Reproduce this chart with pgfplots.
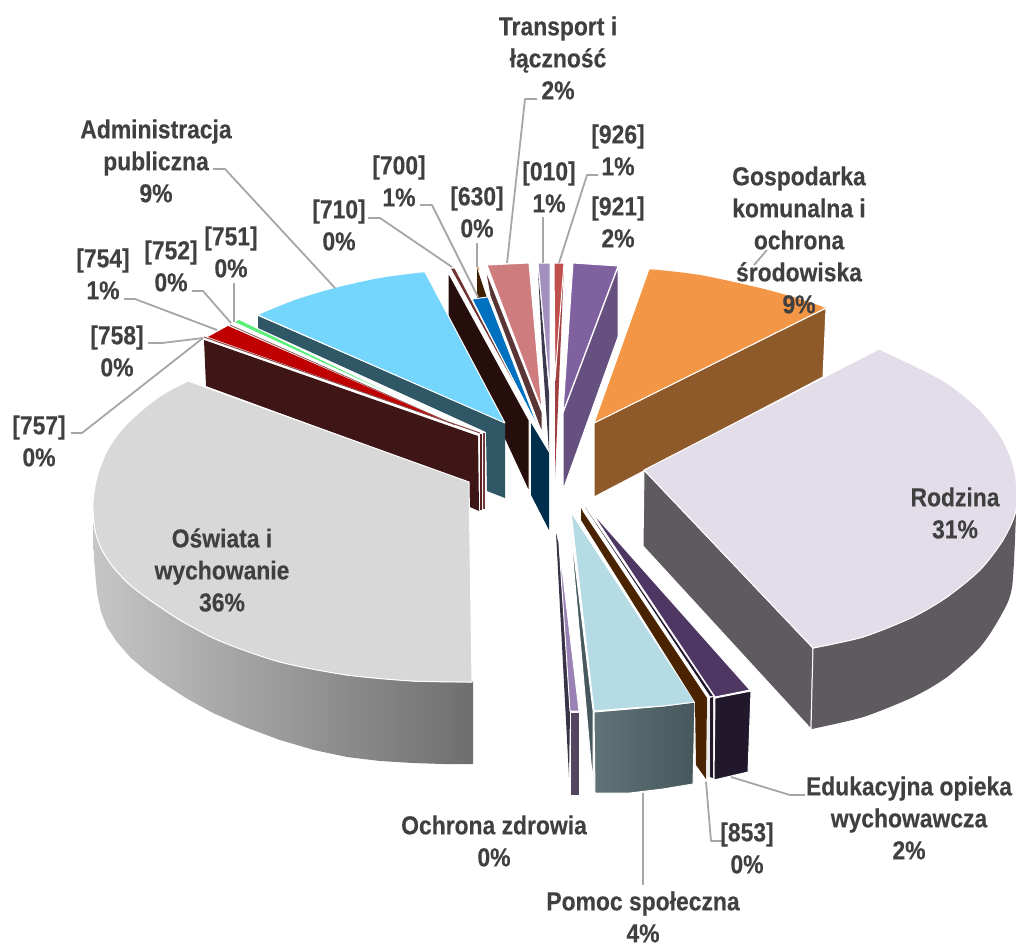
\documentclass[border=0pt]{standalone}
\usepackage{fontspec}
\setmainfont[FakeStretch=0.88,BoldFeatures={FakeBold=0.25}]{Liberation Sans}
\usepackage{pgfplots}
\pgfplotsset{compat=1.18}
\definecolor{lab}{HTML}{404040}
\definecolor{lead}{HTML}{A6A6A6}
\definecolor{cGrey}{RGB}{216,216,216}
\definecolor{cRod}{RGB}{226,221,233}
\definecolor{cRodS}{RGB}{94,90,95}
\definecolor{cOr}{RGB}{243,150,69}
\definecolor{cAdm}{RGB}{117,214,253}
\definecolor{cPom}{RGB}{181,219,228}
\tikzset{lb/.style={font=\fontsize{26}{32}\selectfont\bfseries,text=lab,align=center,inner sep=0pt,anchor=center}}
\pgfplotsset{
 face/.style={fill={#1},draw=white,line width=1pt,line join=round},
 flat/.style={fill={#1},draw=none},
 arc/.style={smooth,fill={#1},draw=white,line width=1pt},
 leader/.style={draw=lead,line width=1.8pt,line join=round}}
\begin{document}
\begin{tikzpicture}
\useasboundingbox (0,0) rectangle (1016pt,945pt);
\begin{axis}[at={(0,0)},anchor=south west,scale only axis,width=1016pt,height=945pt,xmin=0,xmax=1016,ymin=0,ymax=945,y dir=reverse,hide axis,clip=false]
% orange
\addplot[face={rgb,255:red,143;green,90;blue,41}] coordinates {(594,423)(826,308)(823,377)(594,497)} --cycle;
\addplot[face=cOr] coordinates {(594,423)(649,269)(700,275)(760,288)(800,299)(826,308)} --cycle;
\addplot[arc=cOr,draw=none] coordinates {(649,269)(700,275)(760,288)(800,299)(826,308)};
% purple 921
\addplot[face={rgb,255:red,102;green,80;blue,127}] coordinates {(563,413)(618,267)(618,337)(563,490)} --cycle;
\addplot[face={rgb,255:red,128;green,97;blue,160}] coordinates {(573,263)(618,266)(563,412)} --cycle;
% red 926
\addplot[flat={rgb,255:red,160;green,65;blue,65}] coordinates {(564,264)(555,380)(555,478)} --cycle;
\addplot[face={rgb,255:red,192;green,80;blue,77}] coordinates {(554,263)(564,263)(555,380)} --cycle;
% 010
\addplot[flat={rgb,255:red,60;green,58;blue,78}] coordinates {(538,270)(549,393)(549,452)(542,350)} --cycle;
\addplot[face={rgb,255:red,164;green,144;blue,191}] coordinates {(538,263)(550,263)(550,393)} --cycle;
% 630
\addplot[flat={rgb,255:red,62;green,32;blue,0}] coordinates {(477,268)(487,298)(477,298)} --cycle;
\addplot[draw={rgb,255:red,200;green,120;blue,50},line width=.8pt] coordinates {(477,266)(479,270)};
% pink
\addplot[face={rgb,255:red,90;green,53;blue,54}] coordinates {(485,268)(542,412)(542,433)(490,296)} --cycle;
\addplot[face={rgb,255:red,207;green,124;blue,126}] coordinates {(487,265)(529,263)(542,410)} --cycle;
% navy + blue
\addplot[flat={rgb,255:red,0;green,46;blue,77}] coordinates {(531,423)(549,453)(549,530)(531,495)} --cycle;
\addplot[face={rgb,255:red,0;green,112;blue,192}] coordinates {(472,299)(488,297)(542,437)} --cycle;
% 710
\addplot[face={rgb,255:red,38;green,14;blue,13}] coordinates {(448,272)(529,420)(529,492)(448,317)} --cycle;
\addplot[face={rgb,255:red,112;green,50;blue,50}] coordinates {(450,268)(455,268)(542,435)} --cycle;
% admin
\addplot[flat={rgb,255:red,48;green,87;blue,101}] coordinates {(258,316)(505,423)(505,498)(487,491)(486,432)(258,328)} --cycle;
\addplot[face=cAdm] coordinates {(258,315)(295,300)(335,288)(380,278)(425,272)(505,423)} --cycle;
\addplot[arc=cAdm,draw=none] coordinates {(258,315)(295,300)(335,288)(380,278)(425,272)};
% thin 751 etc
\addplot[flat={rgb,255:red,92;green,240;blue,122}] coordinates {(235,322)(239,320)(385,391)} --cycle;
\addplot[draw={rgb,255:red,128;green,64;blue,64},line width=.7pt] coordinates {(230,325)(455,425)};
\addplot[flat={rgb,255:red,192;green,0;blue,0}] coordinates {(208,337)(228,326)(450,423)} --cycle;
\addplot[draw={rgb,255:red,140;green,74;blue,74},line width=1pt] coordinates {(204,337)(480,433)};
% maroon
\addplot[flat={rgb,255:red,90;green,32;blue,32}] coordinates {(480,434)(482,434)(482,510)(480,510)} --cycle;
\addplot[flat={rgb,255:red,110;green,58;blue,58}] coordinates {(483,433)(485,433)(485,509)(483,509)} --cycle;
\addplot[flat={rgb,255:red,62;green,22;blue,21}] coordinates {(204,340)(478,436)(479,511)(470,507)(468,482)(206,386)} --cycle;
% grey
\addplot[draw=none,left color={rgb,255:red,198;green,198;blue,198},right color={rgb,255:red,110;green,110;blue,110}] coordinates {(93,523)(114,568)(147,598)(180,620)(220,641)(280,662)(347,675)(413,681)(473,681)(473,764)(443,764)(413,763)(380,761)(347,757)(314,750)(280,740)(245,727)(213,713)(186,698)(163,683)(145,670)(130,657)(117,642)(107,627)(101,612)(97,593)(94,560)} --cycle;
\addplot[face=cGrey] coordinates {(469,482)(188,381)(165,393)(148,405)(132,419)(118,434)(106,453)(97,477)(93,503)(95,530)(102,550)(114,568)(129,584)(147,598)(180,620)(220,641)(280,662)(347,675)(413,681)(472,682)} --cycle;
\addplot[arc=cGrey] coordinates {(188,381)(165,393)(148,405)(132,419)(118,434)(106,453)(97,477)(93,503)(95,530)(102,550)(114,568)(129,584)(147,598)(180,620)(220,641)(280,662)(347,675)(413,681)(472,682)};
% rodzina
\addplot[face=cRodS] coordinates {(644,470)(813,648)(811,729)(643,546)} --cycle;
\addplot[flat=cRodS] coordinates {(813,648)(863,637)(913,617)(947,597)(980,570)(1003,540)(1016,510)(1012,587)(1000,617)(980,647)(947,677)(913,697)(863,717)(811,729)} --cycle;
\addplot[smooth,flat=cRodS] coordinates {(1016,510)(1012,587)(1000,617)(980,647)(947,677)(913,697)(863,717)(811,729)};
\addplot[draw=white,line width=1pt] coordinates {(813,648)(811,729)};
\addplot[face=cRod] coordinates {(644,470)(879,349)(913,365)(947,383)(980,410)(1003,440)(1015,473)(1016,510)(1003,540)(980,570)(947,597)(913,617)(863,637)(813,648)} --cycle;
\addplot[arc=cRod] coordinates {(879,349)(913,365)(947,383)(980,410)(1003,440)(1015,473)(1016,510)(1003,540)(980,570)(947,597)(913,617)(863,637)(813,648)};
% ochrona zdrowia
\addplot[flat={rgb,255:red,58;green,51;blue,72}] coordinates {(556,533)(559,545)(570,712)(569,777)} --cycle;
\addplot[face={rgb,255:red,84;green,69;blue,96}] coordinates {(570,712)(579,712)(579,795)(570,795)} --cycle;
\addplot[face={rgb,255:red,154;green,130;blue,181}] coordinates {(559,543)(579,711)(570,711)} --cycle;
% pomoc
\addplot[face={rgb,255:red,71;green,89;blue,94}] coordinates {(569,515)(593,710)(593,785)} --cycle;
\addplot[draw=white,line width=1pt,left color={rgb,255:red,95;green,115;blue,120},right color={rgb,255:red,71;green,88;blue,92}] coordinates {(594,712)(630,709)(663,706)(695,702)(693,784)(663,789)(630,793)(595,793)} --cycle;
\addplot[face=cPom] coordinates {(571,512)(695,702)(663,706)(630,708)(594,711)} --cycle;
% 853
\addplot[flat={rgb,255:red,74;green,36;blue,0}] coordinates {(581,508)(583,512)(707,698)(706,779)(696,765)(695,702)(581,520)} --cycle;
\addplot[flat={rgb,255:red,235;green,235;blue,235}] coordinates {(707,700)(710,700)(710,777)(707,777)} --cycle;
\addplot[flat={rgb,255:red,34;green,24;blue,44}] coordinates {(710,698)(713,697)(713,778)(710,777)} --cycle;
\addplot[flat={rgb,255:red,35;green,26;blue,48}] coordinates {(585,507)(713,696)(710,696)} --cycle;
% edukacyjna
\addplot[face={rgb,255:red,33;green,24;blue,43}] coordinates {(715,698)(751,691)(748,772)(714,780)} --cycle;
\addplot[face={rgb,255:red,79;green,55;blue,99}] coordinates {(590,510)(750,690)(715,697)} --cycle;
% leaders
\addplot[leader] coordinates {(537,99)(525,99)(507,263)};
\addplot[leader] coordinates {(598,175)(587,175)(559,263)};
\addplot[leader] coordinates {(543,217)(543,263)};
\addplot[leader] coordinates {(477,243)(477,267)};
\addplot[leader] coordinates {(420,205)(432,205)(478,297)};
\addplot[leader] coordinates {(368,218)(380,218)(452,267)};
\addplot[leader] coordinates {(213,169)(225,169)(335,288)};
\addplot[leader] coordinates {(234,283)(234,322)};
\addplot[leader] coordinates {(192,291)(203,291)(231,323)};
\addplot[leader] coordinates {(124,299)(135,299)(217,330)};
\addplot[leader] coordinates {(148,343)(162,343)(203,338)};
\addplot[leader] coordinates {(71,433)(82,433)(203,338)};
\addplot[leader] coordinates {(767,250)(754,265)};
\addplot[leader] coordinates {(805,795)(790,795)(731,777)};
\addplot[leader] coordinates {(706,782)(711,841)(722,841)};
\addplot[leader] coordinates {(643,793)(643,885)};
% labels
\node[lb] at (axis cs:558,58) {Transport i\\łączność\\2\%};
\node[lb] at (axis cs:618,150) {[926]\\1\%};
\node[lb] at (axis cs:618,222) {[921]\\2\%};
\node[lb] at (axis cs:549,187) {[010]\\1\%};
\node[lb] at (axis cs:477,212) {[630]\\0\%};
\node[lb] at (axis cs:399,181) {[700]\\1\%};
\node[lb] at (axis cs:339,225) {[710]\\0\%};
\node[lb] at (axis cs:156,161) {Administracja\\publiczna\\9\%};
\node[lb] at (axis cs:231,252) {[751]\\0\%};
\node[lb] at (axis cs:171,266) {[752]\\0\%};
\node[lb] at (axis cs:103,274) {[754]\\1\%};
\node[lb] at (axis cs:117,351) {[758]\\0\%};
\node[lb] at (axis cs:39,441) {[757]\\0\%};
\node[lb] at (axis cs:799,240) {Gospodarka\\komunalna i\\ochrona\\środowiska\\9\%};
\node[lb] at (axis cs:955,513) {Rodzina\\31\%};
\node[lb] at (axis cs:222,570) {Oświata i\\wychowanie\\36\%};
\node[lb] at (axis cs:909,818) {Edukacyjna opieka\\wychowawcza\\2\%};
\node[lb] at (axis cs:747,848) {[853]\\0\%};
\node[lb] at (axis cs:643,917) {Pomoc społeczna\\4\%};
\node[lb] at (axis cs:494,841) {Ochrona zdrowia\\0\%};
\end{axis}
\end{tikzpicture}
\end{document}
